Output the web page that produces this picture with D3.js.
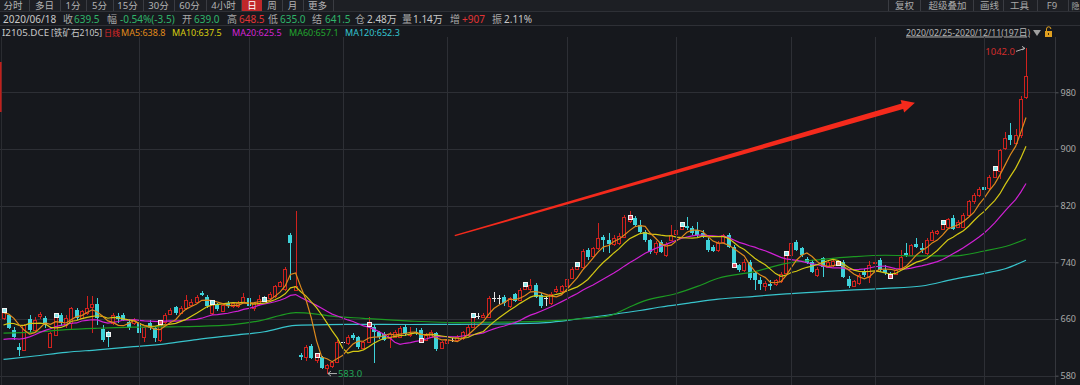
<!DOCTYPE html>
<html><head><meta charset="utf-8">
<script src="https://cdn.jsdelivr.net/npm/d3@7"></script>
<style>
html,body{margin:0;padding:0;background:#16181d;overflow:hidden}
svg{display:block}
text{font-family:"Noto Sans","Noto Sans CJK SC",sans-serif}
</style></head><body>
<svg id="c" width="1080" height="385"></svg>
<script>
// ---------- DATA (I2105.DCE daily, 2020/02/25 - 2020/12/11, 197 bars) ----------
const opens=[661,665,645,621,616,660,645,664,662,621,638,665,652,654,673,662,668,677,681,646,642,655,664,665,656,654,654,635,655,647,631,656,667,677,669,675,680,684,697,691,668,681,672,683,678,678,684,689,675,681,691,689,693,707,703,779,701,609,606,622,602,606,591,594,600,628,626,637,634,619,628,649,641,639,633,635,635,649,639,642,645,631,635,640,619,626,630,630,633,638,649,664,663,663,690,689,691,678,695,687,703,703,708,694,689,682,699,699,706,718,731,734,758,749,760,776,772,766,767,776,798,803,793,783,771,754,769,751,772,780,787,791,788,786,782,772,762,758,769,778,762,736,729,741,725,715,707,710,710,713,725,750,769,760,745,741,722,746,734,736,742,741,717,707,711,727,720,739,743,729,724,724,732,753,751,766,760,753,772,781,787,790,802,790,790,807,826,835,847,845,861,869,902,920,908,920,974];
const highs=[676,667,649,626,653,665,663,670,664,642,668,668,665,677,676,673,692,692,689,652,643,669,669,668,660,662,657,652,659,649,658,669,675,679,678,694,688,694,700,694,685,683,682,685,684,685,697,691,684,694,693,698,708,714,733,781,812,612,623,625,610,608,597,601,630,645,637,640,636,629,663,651,643,641,641,645,650,653,648.5,648,647,640,644,642,629,633,633,637,643,651,666,669,668,693,698,694,694,691,697,704,709,716,711,697,693,698,707,708,718,734,737,759,760,762,795,779,781,778,782,807,812,806,800,786,773,770,772,769,793,788,794,804,791,797,785,775,764,770,780,782,764,738,745,743,728,720,714,715,717,726,754,770,771,762,748,744,733,748,744,744,744,743,721,715,725,730,742,743,746,736,727,731,757,768,766,774,767,774,786,786,797,803,807,800,809,828,838,847,849,863,874,900,924,936,928,975,1042];
const lows=[659,646,630,608,615,640,642,660,648,620,637,650,648,645,658,660,665,640,651,627,621,652,655,657,644,652,633,628,645,628,628,653,665,666,667,673,678,682,692,676,666,672,670,676,676,676,682,676,672,679,685,687,690,705,700,715,700,602,601,603,598,589,583,591,598,626,624,631,618,617,626,598,632,629,619,633,633,636,635,637,627,629,633,615,617,624,627,628,631,636,647,660,661,661,684,681,679,676,684,685,701,700,689,676,678,680,697,697,704,716,729,731,744,746,758,754,753,763,764,774,795,790,780,769,752,751,753,748,770,778,785,786,779,776,774,755,754,755,767,760,733,727,727,715,701,701,700,701,707,711,723,748,756,748,737,725,720,720,732,734,735,718,704,705,708,720,711,735,727,722,718,722,730,747,749,760,753,751,770,779,785,788,785,788,788,805,823,832,838,842,859,858,898,906,905,915,970];
const closes=[672,648,634,616,651,645,658,667,652,640,664,654,662,676,661,671,676,681,661,631,638,665,660,659,647,659,640,649,648,633,655,666,673,668,676,687,684,691,694,678,683,674,680,678,682,683,691,678,682,688,687,696,707,712,731,768,707,607,621,605,608,591,595,600,628,628,635,633,620,627,651,641,634,631,639,642,647,639,639.5,640,629,638,642,617,627,631,630,635,641,649,664,664,666,690,690,689,682,689,686,701,708,708,691,678,689,696,703,706,716,731,736,756,747,760,775,771,766,775,777,804,802,793,783,772,755,767,755,766,778,786,793,789,781,779,776,758,756,767,778,762,735,729,741,718,715,709,711,706,715,723,752,767,758,750,739,727,731,734,741,742,737,720,706,713,722,722,736,741,729,725,720,729,748,750,764,761,758,771,783,784,796,801,787,797,807,826,835,844,842,861,872,898,915,913,920,971,1003];
// estimated closes of the 19 bars before the window (for MA5/10/20 warm-up)
const priorCloses=[632,630,628,629,605,600,598,596,595,598,625,635,642,652,616,658,664,663,688];
// MA60 / MA120 at sample bars
const ma60Idx=[0,6,12,18,25,32,37,44,50,53,56,60,63,69,78,87,96,104,110,116,120,123,129,133,137,144,150,156,163,169,176,182,188,193,196];
const ma60Val=[640,641.5,645,647,648.5,649,649.5,652,659,665,669,667,664,661,657.1,655,655.5,657,660,664.3,677,686,696,706,717.5,727,738.6,743.4,748,750,749,749,756,764.5,773];
const ma120Idx=[0,6,12,18,25,31,37,44,50,56,62,68,78,87,96,104,110,116,122,126,131,137,144,150,157,163,169,176,182,188,192,196];
const ma120Val=[603,607.8,613,616.5,621,625,631,637,642,651,652.2,652.5,652.3,652.5,653,655,660,665.7,672,677,682,688,692,695.5,698.6,701,703.3,706.6,716,724.5,731,743];
const markIdx=[0,10,20,30,40,50,60,70,80,90,100,110,120,130,140,150,160,170,180,190];
const markType=['c','c','c','r','c','c','r','r','r','c','c','c','r','c','r','c','o','r','c','c'];
const monthStartIdx=[26,47,65,85,108,129,151,167,188];
const yTicks=[580,660,740,820,900,980];
const arrowFrom=[86.5,777.7], arrowTo=[174.7,965.4];
const tabs=["分时","多日","1分","5分","15分","30分","60分","4小时","日","周","月","更多"];
const rightTabs=["复权","超级叠加","画线","工具","F9","隐"];

// ---------- SETUP ----------
const svg=d3.select('#c');
const BG='#16181d', GRID='#2d2f35', RED='#d0221e', CYAN='#3ed2da';
const PLOT_TOP=37, PLOT_R=1055;
const x=d3.scaleLinear().domain([0,opens.length-1]).range([3.5,1026]);
const y=d3.scaleLinear().domain([580,980]).range([375.7,92.3]);

svg.append('rect').attr('width',1080).attr('height',385).attr('fill',BG);

// header rows
svg.append('rect').attr('x',0).attr('y',0).attr('width',1080).attr('height',11).attr('fill','#1d1f24');
svg.append('rect').attr('x',0).attr('y',11.5).attr('width',1080).attr('height',14).attr('fill','#181a1f');
svg.append('line').attr('x1',0).attr('x2',1080).attr('y1',11.5).attr('y2',11.5).attr('stroke','#2e3036');
svg.append('line').attr('x1',0).attr('x2',1080).attr('y1',25.5).attr('y2',25.5).attr('stroke','#2e3036');

const tabCenters=[13,44.5,73,99.5,127.5,158.5,189.5,223.5,252,272,292.5,317.5];
const tabSeps=[29,60,86,113,143,174,206,241,282,303,333];
svg.append('rect').attr('x',242).attr('y',0).attr('width',20).attr('height',11).attr('fill','#c0282a');
tabSeps.forEach(s=>svg.append('line').attr('x1',s+0.5).attr('x2',s+0.5).attr('y1',0).attr('y2',11).attr('stroke','#3a3c42'));
tabs.forEach((t,k)=>svg.append('text').attr('x',tabCenters[k]).attr('y',9).attr('text-anchor','middle')
  .attr('font-size',9.5).attr('fill',t==='日'?'#ffffff':'#b4b4b4').text(t));
const rtCenters=[904.5,947.5,989.5,1019.5,1052];
const rtSeps=[888,920,973,1003,1037,1068];
rtSeps.forEach(s=>svg.append('line').attr('x1',s+0.5).attr('x2',s+0.5).attr('y1',0).attr('y2',11).attr('stroke','#3a3c42'));
rightTabs.forEach((t,k)=>{
  const last=k===rightTabs.length-1;
  svg.append('text').attr('x',last?1079.5:rtCenters[k]).attr('y',9).attr('text-anchor',last?'end':'middle')
    .attr('font-size',last?8:9.5).attr('fill','#a8a8a8').text(t);
});

// info row
const G='#2fb46a', R='#e23434', W='#c8c8c8', L='#a8a8a8';
const info=[[3,"2020/06/18",W],[63,"收",L],[74,"639.5",G],[107,"幅",L],[120,"-0.54%(-3.5)",G],[182,"开",L],[194,"639.0",G],
 [227,"高",L],[239,"648.5",R],[268,"低",L],[280,"635.0",G],[312,"结",L],[325,"641.5",G],[355,"仓",L],[367,"2.48万",W],
 [402,"量",L],[413,"1.14万",W],[450,"增",L],[462,"+907",R],[492,"振",L],[504,"2.11%",W]];
info.forEach(d=>svg.append('text').attr('x',d[0]).attr('y',22.5).attr('font-size',10).attr('fill',d[2]).text(d[1]));

// legend row (x, text, colour, font size)
const leg=[[2,"I2105.DCE",W,9.8],[51,"[铁矿石2105]",W,8.6],[104,"日线",'#e02828',8],[121,"MA5:638.8",'#e08a1a',9],[172,"MA10:637.5",'#d8cc10',9],
 [232,"MA20:625.5",'#d424d4',9],[289,"MA60:657.1",'#22a62e',9],[345,"MA120:652.3",'#34c4d0',9]];
leg.forEach(d=>svg.append('text').attr('x',d[0]).attr('y',35.5).attr('font-size',d[3]).attr('fill',d[2]).text(d[1]));
svg.append('text').attr('x',906).attr('y',35.5).attr('font-size',9.5).attr('fill','#b4b4b4')
  .attr('textLength',124).attr('lengthAdjust','spacingAndGlyphs')
  .attr('text-decoration','underline').text("2020/02/25-2020/12/11(197日)");
svg.append('path').attr('d','M1033,30 L1041,30 L1037,36 Z').attr('fill','#a0a0a0');
svg.append('path').attr('d','M1046.5,31 v-2 a2.2,2.2 0 0 1 4.4,0').attr('fill','none').attr('stroke','#e0a020').attr('stroke-width',1);
svg.append('rect').attr('x',1045).attr('y',31).attr('width',7).attr('height',6).attr('fill','#e0a020');
svg.append('rect').attr('x',1048).attr('y',33).attr('width',1).attr('height',2).attr('fill','#402800');

// ---------- PLOT ----------
svg.append('clipPath').attr('id','clip').append('rect').attr('x',0).attr('y',PLOT_TOP).attr('width',PLOT_R).attr('height',385-PLOT_TOP);
const plot=svg.append('g').attr('clip-path','url(#clip)');

// grid
plot.selectAll('.hg').data(yTicks).join('line').attr('x1',0).attr('x2',PLOT_R)
  .attr('y1',d=>Math.round(y(d))+0.5).attr('y2',d=>Math.round(y(d))+0.5).attr('stroke',GRID);
svg.selectAll('.vg').data(monthStartIdx).join('line').attr('x1',d=>Math.round(x(d))+0.5).attr('x2',d=>Math.round(x(d))+0.5)
  .attr('y1',PLOT_TOP).attr('y2',385).attr('stroke',GRID);
svg.append('line').attr('x1',1.5).attr('x2',1.5).attr('y1',PLOT_TOP).attr('y2',385).attr('stroke','#2a2c31');
svg.append('line').attr('x1',0.8).attr('x2',0.8).attr('y1',62).attr('y2',112).attr('stroke','#c0201c').attr('stroke-width',1.6);

// right axis
svg.append('line').attr('x1',PLOT_R+0.5).attr('x2',PLOT_R+0.5).attr('y1',PLOT_TOP).attr('y2',385).attr('stroke','#34363c');
const ax=svg.append('g').attr('transform',`translate(${PLOT_R+0.5},0)`)
  .call(d3.axisRight(y).tickValues(yTicks).tickSize(3).tickPadding(2).tickFormat(d3.format('d')));
ax.select('.domain').remove();
ax.selectAll('line').attr('stroke','#55575c');
ax.selectAll('text').attr('fill','#a8a8a8').attr('font-size',9).attr('font-family','"Noto Sans",sans-serif');

// candles
const data=d3.range(opens.length).map(i=>({i,o:opens[i],h:highs[i],l:lows[i],c:closes[i]}));
const cg=plot.append('g').attr('shape-rendering','crispEdges');
data.forEach(d=>{
  const cx=Math.round(x(d.i));
  const doji=d.c===d.o, up=d.c>d.o;
  const col=doji?'#e6e6e6':(up?RED:CYAN);
  const yo=y(d.o), yc=y(d.c), top=Math.round(Math.min(yo,yc)), bot=Math.round(Math.max(yo,yc));
  cg.append('line').attr('x1',cx+0.5).attr('x2',cx+0.5).attr('y1',y(d.h)).attr('y2',y(d.l)).attr('stroke',col);
  if(doji){
    cg.append('line').attr('x1',cx-2).attr('x2',cx+2).attr('y1',top+0.5).attr('y2',top+0.5).attr('stroke',col);
  } else if(up){
    cg.append('rect').attr('x',cx-1.5).attr('y',top+0.5).attr('width',3).attr('height',Math.max(bot-top,1))
      .attr('fill',BG).attr('stroke',col);
  } else {
    cg.append('rect').attr('x',cx-2).attr('y',top).attr('width',4).attr('height',Math.max(bot-top,1)).attr('fill',col);
  }
});

// moving averages
const all=priorCloses.concat(closes);
function ma(n){return closes.map((c,i)=>{const j=i+priorCloses.length;return d3.mean(all.slice(j-n+1,j+1));});}
const line=d3.line().x((d,i)=>x(i)).y(d=>y(d));
const sline=d3.line().x(d=>x(d[0])).y(d=>y(d[1])).curve(d3.curveMonotoneX);
plot.append('path').attr('d',sline(ma120Idx.map((d,k)=>[d,ma120Val[k]]))).attr('fill','none').attr('stroke','#38c4cc').attr('stroke-width',1.2);
plot.append('path').attr('d',sline(ma60Idx.map((d,k)=>[d,ma60Val[k]]))).attr('fill','none').attr('stroke','#1c9a22').attr('stroke-width',1.2);
plot.append('path').attr('d',line(ma(20))).attr('fill','none').attr('stroke','#d020d4').attr('stroke-width',1.2);
plot.append('path').attr('d',line(ma(10))).attr('fill','none').attr('stroke','#d4c814').attr('stroke-width',1.2);
plot.append('path').attr('d',line(ma(5))).attr('fill','none').attr('stroke','#de8a1c').attr('stroke-width',1.2);

// periodic marks
const mfill={c:'#8fe8ec',r:'#e0566a',o:'#e8a878'};
markIdx.forEach((m,k)=>{
  const cx=Math.round(x(m)), cy=Math.round(y(closes[m]));
  plot.append('rect').attr('x',cx-1.5).attr('y',cy-2.5).attr('width',4).attr('height',4)
    .attr('fill',mfill[markType[k]]).attr('stroke','#f4f4f4').attr('stroke-width',1).attr('shape-rendering','crispEdges');
});

// high / low annotations
const hi=d3.maxIndex(highs), lo=d3.minIndex(lows);
const hx=x(hi), hy=y(highs[hi]);
plot.append('line').attr('x1',hx-10).attr('y1',hy+3).attr('x2',hx-1).attr('y2',hy).attr('stroke','#b4b4b4');
plot.append('path').attr('d',`M${hx-4},${hy-2} L${hx-1},${hy} L${hx-4},${hy+1.5}`).attr('fill','none').attr('stroke','#b4b4b4');
plot.append('text').attr('x',hx-11).attr('y',hy+7).attr('text-anchor','end').attr('font-size',9.5).attr('fill','#d02c2c').text(highs[hi].toFixed(1));
const lx=x(lo), ly=y(lows[lo]);
plot.append('line').attr('x1',lx+1).attr('x2',lx+10).attr('y1',ly).attr('y2',ly).attr('stroke','#b4b4b4');
plot.append('path').attr('d',`M${lx+4},${ly-2.5} L${lx+1},${ly} L${lx+4},${ly+2.5}`).attr('fill','none').attr('stroke','#b4b4b4');
plot.append('text').attr('x',lx+11).attr('y',ly+3.5).attr('font-size',9.5).attr('fill','#22a858').text(lows[lo].toFixed(1));

// big red arrow
(function(){
  const x0=x(arrowFrom[0]), y0=y(arrowFrom[1]), x1=x(arrowTo[0]), y1=y(arrowTo[1]);
  const dx=x1-x0, dy=y1-y0, len=Math.hypot(dx,dy), ux=dx/len, uy=dy/len, nx=-uy, ny=ux;
  const hl=13, hw=6.5, sw=2.8, tw=0.7;
  const bx=x1-ux*hl, by=y1-uy*hl;
  const pts=[[x0+nx*tw,y0+ny*tw],[bx+nx*sw,by+ny*sw],[bx+nx*hw,by+ny*hw],[x1,y1],[bx-nx*hw,by-ny*hw],[bx-nx*sw,by-ny*sw],[x0-nx*tw,y0-ny*tw]];
  svg.append('path').attr('d','M'+pts.map(p=>p.join(',')).join('L')+'Z').attr('fill','#f42a1c');
})();
</script>
</body></html>
